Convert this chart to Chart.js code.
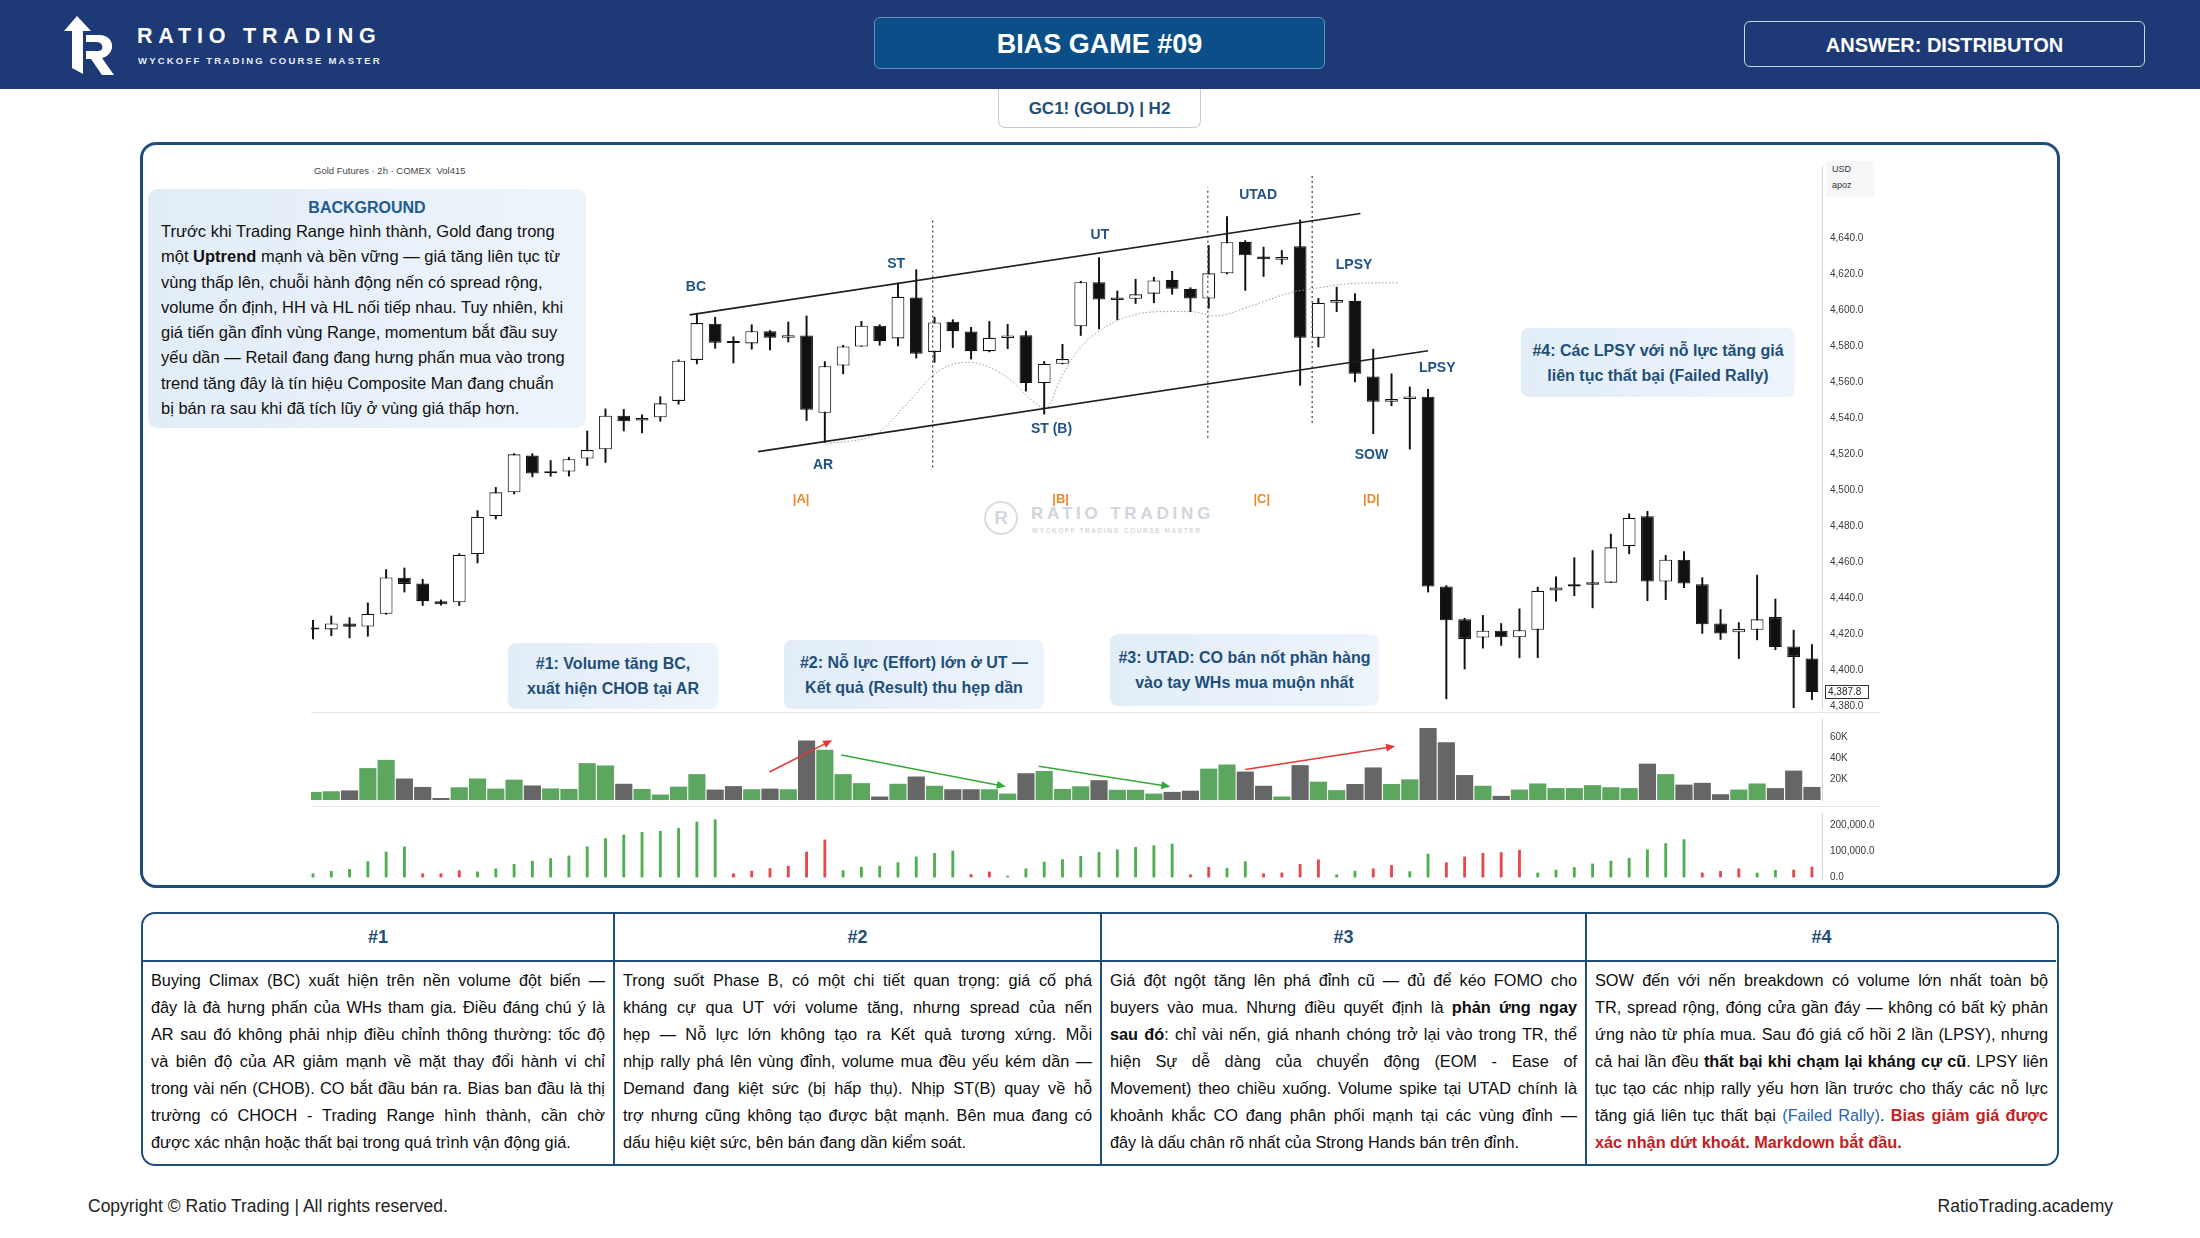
<!DOCTYPE html>
<html lang="vi">
<head>
<meta charset="utf-8">
<title>Bias Game #09 - GC1! (GOLD) H2</title>
<script src="https://cdn.jsdelivr.net/npm/chart.js@4.4.1/dist/chart.umd.min.js"></script>
<style>
  body { margin: 0; width: 2200px; height: 1238px; position: relative; overflow: hidden; background: #fff;
         font-family: "Liberation Sans", Arial, sans-serif; color: #1a1a1a; }
  .abs { position: absolute; }
  #header { left: 0; top: 0; width: 2200px; height: 89px; background: #1d3a76; }
  #logoTitle { left: 137px; top: 24px; color: #fff; font-weight: bold; font-size: 21.5px; letter-spacing: 5.8px; }
  #logoSub { left: 138px; top: 55px; color: #e8edf5; font-weight: bold; font-size: 9.5px; letter-spacing: 2.2px; }
  #gameBox { left: 874px; top: 17px; width: 451px; height: 52px; box-sizing: border-box; background: #0c4f88;
             border: 1px solid #5f8fc4; border-radius: 6px; color: #fff; font-weight: bold; font-size: 27px;
             display: flex; align-items: center; justify-content: center; padding-top: 3px; }
  #answerBox { left: 1744px; top: 21px; width: 401px; height: 46px; box-sizing: border-box; border: 1.5px solid #c8d4e8;
               border-radius: 6px; color: #fff; font-weight: bold; font-size: 20px; padding-top: 2px;
               display: flex; align-items: center; justify-content: center; }
  #tab { left: 998px; top: 89px; width: 203px; height: 39px; box-sizing: border-box; background: #fff; border: 1px solid #c5ccd6;
         border-top: none; border-radius: 0 0 7px 7px; color: #1f4e79; font-weight: bold; font-size: 17px; padding-top: 2px;
         display: flex; align-items: center; justify-content: center; }
  #panel { left: 140px; top: 142px; width: 1920px; height: 746px; box-sizing: border-box; border: 3px solid #1f4e7c; border-radius: 16px; }
  .pane { position: absolute; left: 311px; width: 1569px; }
  .sep { position: absolute; left: 311px; width: 1569px; height: 1px; background: #e4e4e4; }
  #srcTag { left: 314px; top: 165px; font-size: 9.5px; color: #444; }
  #usdBox { left: 1826px; top: 161px; width: 48px; height: 36px; background: #f6f7f8; font-size: 9px; color: #333; line-height: 16px; padding-left: 6px; box-sizing: border-box; }
  .note { position: absolute; box-sizing: border-box; border-radius: 8px; background: linear-gradient(90deg, #e2edf8, #edf4fb);
          color: #1f4e79; font-weight: bold; font-size: 16px; line-height: 25px; text-align: center;
          display: flex; align-items: center; justify-content: center; }
  #bgBox { left: 148px; top: 189px; width: 438px; height: 239px; box-sizing: border-box; border-radius: 9px;
           background: linear-gradient(90deg, #e2edf8, #eef4fb); padding: 8px 0 0 13px; }
  #bgBox .ttl { text-align: center; color: #1f5a90; font-weight: bold; font-size: 16px; line-height: 22px; padding-right: 13px; }
  #bgBox .txt { font-size: 16.5px; line-height: 25.3px; color: #111; }
  #wm { left: 984px; top: 500px; opacity: 0.85; }
  #wmCirc { left: 0; top: 1px; width: 34px; height: 34px; box-sizing: border-box; border: 2px solid #d3d7de; border-radius: 50%;
            color: #cbd0d8; font-weight: bold; font-size: 19px; display: flex; align-items: center; justify-content: center; }
  #wmT1 { left: 47px; top: 4px; font-weight: bold; font-size: 17px; letter-spacing: 3.8px; color: #c9ced6; white-space: nowrap; }
  #wmT2 { left: 48px; top: 27px; font-weight: bold; font-size: 6.5px; letter-spacing: 1.6px; color: #cdd2d9; white-space: nowrap; }
  #notes { left: 141px; top: 912px; width: 1918px; height: 254px; box-sizing: border-box; border: 2.5px solid #1f4e7c;
           border-radius: 14px; display: grid; grid-template-columns: 470px 487px 485px 471px; overflow: hidden; }
  #notes .col + .col { border-left: 2px solid #1f4e7c; }
  #notes .hd { height: 46px; border-bottom: 2px solid #1f4e7c; display: flex; align-items: center; justify-content: center;
               color: #1f4e79; font-weight: bold; font-size: 18px; }
  #notes .bd { padding: 5px 8px 0 8px; font-size: 16.3px; line-height: 27px; color: #0d0d0d; }
  #notes .bd div { text-align: justify; text-align-last: justify; }
  #notes .bd div:last-child { text-align-last: left; }
  .blue { color: #2a63aa; }
  .red { color: #c4201d; font-weight: bold; }
  #copy { left: 88px; top: 1196px; font-size: 17.5px; color: #222; }
  #site { right: 87px; top: 1196px; font-size: 17.5px; color: #222; }
</style>
</head>
<body>

<div id="header" class="abs"></div>
<svg class="abs" style="left:62px;top:16px" width="56" height="60" viewBox="0 0 56 60">
  <path d="M15 0 L29 15 L21 15 L21 58 L10 52 L10 15 L2 15 Z" fill="#fff"/>
  <path d="M24 19 H37 C47 19 51 26 50 32 C49 37 45 41 40 42 L52 59 H40 L29 43 H24 V35 H36 C40 35 41 32 40 29 C39 27 37 26 34 26 H24 Z" fill="#fff"/>
</svg>
<div id="logoTitle" class="abs">RATIO TRADING</div>
<div id="logoSub" class="abs">WYCKOFF TRADING COURSE MASTER</div>
<div id="gameBox" class="abs">BIAS GAME #09</div>
<div id="answerBox" class="abs">ANSWER: DISTRIBUTON</div>
<div id="tab" class="abs">GC1! (GOLD) | H2</div>

<div id="panel" class="abs"></div>
<div id="srcTag" class="abs">Gold Futures · 2h · COMEX&nbsp; Vol415</div>
<div id="usdBox" class="abs">USD<br>apoz</div>

<div id="wm" class="abs">
  <div id="wmCirc" class="abs">R</div>
  <div id="wmT1" class="abs">RATIO TRADING</div>
  <div id="wmT2" class="abs">WYCKOFF TRADING COURSE MASTER</div>
</div>

<div class="pane" style="top:152px;height:570px"><canvas id="priceChart"></canvas></div>
<div class="sep" style="top:712px"></div>
<div class="pane" style="top:705px;height:109px"><canvas id="volChart"></canvas></div>
<div class="sep" style="top:806px"></div>
<div class="pane" style="top:799px;height:94px"><canvas id="indChart"></canvas></div>

<div id="bgBox" class="abs">
  <div class="ttl">BACKGROUND</div>
  <div class="txt">Trước khi Trading Range hình thành, Gold đang trong<br>
một <b>Uptrend</b> mạnh và bền vững — giá tăng liên tục từ<br>
vùng thấp lên, chuỗi hành động nến có spread rộng,<br>
volume ổn định, HH và HL nối tiếp nhau. Tuy nhiên, khi<br>
giá tiến gần đỉnh vùng Range, momentum bắt đầu suy<br>
yếu dần — Retail đang đang hưng phấn mua vào trong<br>
trend tăng đây là tín hiệu Composite Man đang chuẩn<br>
bị bán ra sau khi đã tích lũy ở vùng giá thấp hơn.</div>
</div>

<div class="note" style="left:508px;top:643px;width:210px;height:66px">#1: Volume tăng BC,<br>xuất hiện CHOB tại AR</div>
<div class="note" style="left:784px;top:640px;width:260px;height:69px">#2: Nỗ lực (Effort) lớn ở UT —<br>Kết quả (Result) thu hẹp dần</div>
<div class="note" style="left:1110px;top:634px;width:269px;height:72px">#3: UTAD: CO bán nốt phần hàng<br>vào tay WHs mua muộn nhất</div>
<div class="note" style="left:1521px;top:328px;width:274px;height:69px">#4: Các LPSY với nỗ lực tăng giá<br>liên tục thất bại (Failed Rally)</div>

<div id="notes" class="abs">
  <div class="col"><div class="hd">#1</div><div class="bd">
    <div>Buying Climax (BC) xuất hiện trên nền volume đột biến —</div>
    <div>đây là đà hưng phấn của WHs tham gia. Điều đáng chú ý là</div>
    <div>AR sau đó không phải nhịp điều chỉnh thông thường: tốc độ</div>
    <div>và biên độ của AR giảm mạnh về mặt thay đổi hành vi chỉ</div>
    <div>trong vài nến (CHOB). CO bắt đầu bán ra. Bias ban đầu là thị</div>
    <div>trường có CHOCH - Trading Range hình thành, cần chờ</div>
    <div>được xác nhận hoặc thất bại trong quá trình vận động giá.</div>
  </div></div>
  <div class="col"><div class="hd">#2</div><div class="bd">
    <div>Trong suốt Phase B, có một chi tiết quan trọng: giá cố phá</div>
    <div>kháng cự qua UT với volume tăng, nhưng spread của nến</div>
    <div>hẹp — Nỗ lực lớn không tạo ra Kết quả tương xứng. Mỗi</div>
    <div>nhịp rally phá lên vùng đỉnh, volume mua đều yếu kém dần —</div>
    <div>Demand đang kiệt sức (bị hấp thụ). Nhịp ST(B) quay về hỗ</div>
    <div>trợ nhưng cũng không tạo được bật mạnh. Bên mua đang có</div>
    <div>dấu hiệu kiệt sức, bên bán đang dần kiểm soát.</div>
  </div></div>
  <div class="col"><div class="hd">#3</div><div class="bd">
    <div>Giá đột ngột tăng lên phá đỉnh cũ — đủ để kéo FOMO cho</div>
    <div>buyers vào mua. Nhưng điều quyết định là <b>phản ứng ngay</b></div>
    <div><b>sau đó</b>: chỉ vài nến, giá nhanh chóng trở lại vào trong TR, thể</div>
    <div>hiện Sự dễ dàng của chuyển động (EOM - Ease of</div>
    <div>Movement) theo chiều xuống. Volume spike tại UTAD chính là</div>
    <div>khoảnh khắc CO đang phân phối mạnh tại các vùng đỉnh —</div>
    <div>đây là dấu chân rõ nhất của Strong Hands bán trên đỉnh.</div>
  </div></div>
  <div class="col"><div class="hd">#4</div><div class="bd">
    <div>SOW đến với nến breakdown có volume lớn nhất toàn bộ</div>
    <div>TR, spread rộng, đóng cửa gần đáy — không có bất kỳ phản</div>
    <div>ứng nào từ phía mua. Sau đó giá cố hồi 2 lần (LPSY), nhưng</div>
    <div>cả hai lần đều <b>thất bại khi chạm lại kháng cự cũ</b>. LPSY liên</div>
    <div>tục tạo các nhịp rally yếu hơn lần trước cho thấy các nỗ lực</div>
    <div>tăng giá liên tục thất bại <span class="blue">(Failed Rally)</span>. <span class="red">Bias giảm giá được</span></div>
    <div><span class="red">xác nhận dứt khoát. Markdown bắt đầu.</span></div>
  </div></div>
</div>

<div id="copy" class="abs">Copyright © Ratio Trading | All rights reserved.</div>
<div id="site" class="abs">RatioTrading.academy</div>

<script>
// GC1! 2h candles (index 0 = leftmost candle)
const candleOpen = [4422.6,4422.6,4425.9,4424.2,4431.3,4451.4,4448.1,4438.3,4437.7,4464.5,
  4485.6,4498.9,4519.3,4509.5,4510.4,4517.7,4522.8,4541.5,4538.8,4540.6,
  4549.7,4572.5,4592.7,4582.3,4581.7,4588.5,4584.8,4586.1,4543.1,4569.4,
  4580.0,4591.6,4584.5,4607.2,4577.0,4593.8,4588.3,4577.4,4584.7,4586.3,
  4559.7,4570.4,4591.2,4615.8,4605.8,4606.5,4609.4,4617.1,4612.0,4606.7,
  4620.7,4638.2,4630.0,4628.3,4635.8,4584.8,4604.3,4605.4,4563.3,4549.3,
  4550.8,4552.1,4446.5,4428.2,4418.1,4421.9,4418.2,4422.4,4444.3,4446.5,
  4447.4,4448.6,4468.9,4485.6,4449.2,4461.4,4447.7,4425.9,4421.0,4422.4,
  4429.5,4413.1,4406.4];
const candleHigh = [4427.7,4430.1,4429.2,4437.4,4455.9,4456.8,4450.5,4439.0,4464.7,4488.7,
  4501.6,4520.4,4520.4,4516.6,4518.4,4533.0,4545.3,4545.0,4542.0,4552.1,
  4572.6,4598.5,4596.3,4585.4,4592.1,4588.8,4593.6,4597.0,4571.6,4580.7,
  4594.0,4592.1,4615.2,4622.7,4596.3,4594.9,4590.7,4593.9,4592.3,4588.5,
  4571.7,4581.2,4616.3,4629.4,4610.9,4617.4,4618.5,4621.8,4612.7,4636.2,
  4652.2,4638.9,4635.3,4633.4,4650.4,4606.7,4613.0,4609.4,4578.5,4564.8,
  4557.5,4556.2,4447.0,4428.8,4430.4,4425.9,4434.1,4446.1,4451.9,4462.5,
  4466.5,4475.6,4486.9,4488.3,4463.8,4465.9,4451.4,4433.7,4426.4,4452.8,
  4439.5,4422.2,4414.2];
const candleLow = [4417.3,4419.1,4417.9,4418.8,4431.0,4443.4,4435.9,4436.1,4435.9,4459.6,
  4484.1,4498.0,4507.5,4507.8,4507.9,4513.8,4515.5,4533.0,4532.0,4538.4,
  4547.9,4570.3,4579.0,4570.8,4578.5,4578.1,4582.5,4538.8,4526.6,4564.8,
  4580.0,4580.7,4580.3,4573.5,4571.2,4579.4,4573.0,4577.0,4578.8,4555.2,
  4542.4,4570.3,4586.1,4589.8,4594.8,4603.9,4604.3,4609.0,4599.4,4601.2,
  4620.3,4611.2,4618.9,4625.8,4558.4,4579.7,4599.4,4560.3,4531.5,4547.0,
  4522.9,4443.4,4384.0,4400.6,4412.2,4413.7,4406.8,4406.9,4438.3,4441.4,
  4434.6,4448.6,4464.7,4438.6,4439.2,4445.9,4420.4,4417.0,4406.4,4416.8,
  4411.3,4378.7,4383.6];
const candleClose = [4423.0,4425.9,4424.1,4431.3,4451.5,4447.9,4438.3,4436.6,4464.1,4485.2,
  4498.9,4520.0,4509.3,4509.9,4517.3,4522.4,4541.5,4538.4,4540.2,4548.4,
  4572.1,4593.0,4582.1,4581.9,4588.5,4584.8,4586.3,4544.8,4569.0,4580.0,
  4591.6,4583.0,4607.6,4575.9,4593.4,4588.5,4577.4,4584.8,4586.1,4559.7,
  4570.3,4573.0,4615.8,4606.1,4607.2,4609.0,4616.7,4612.1,4606.7,4620.7,
  4638.0,4630.7,4628.5,4629.8,4584.8,4604.3,4605.8,4564.8,4549.3,4550.8,
  4552.2,4446.5,4427.7,4417.3,4421.9,4418.2,4422.2,4444.1,4445.9,4447.7,
  4448.8,4468.3,4484.7,4449.2,4461.4,4448.1,4425.5,4420.4,4422.8,4428.2,
  4412.8,4407.3,4387.8];

// volume histogram (contracts)
const volume = [7700,8300,9100,30300,38100,20400,12400,1900,12100,20400,
  10800,19300,13800,11000,10500,35000,32800,15400,10500,5200,
  12700,24600,9900,13200,10200,10800,10200,56600,47700,24600,
  16000,3300,15400,22300,13500,10200,10200,10200,6100,25400,
  27600,10500,13000,18800,9700,9700,6100,7700,8800,29800,
  33700,27000,13500,3300,33100,17400,9400,15200,30900,15200,
  19600,68400,54900,23700,13500,3900,9900,15700,11300,11300,
  14100,12100,11300,34500,24600,14600,16300,5500,9900,15700,
  11300,27900,12400];

// lower wave-volume pane and its side (1 = up wave, -1 = down wave)
const waveVolume = [13000,22000,30000,60000,97000,117000,13000,13000,25000,20000,
  32000,49000,62000,72000,82000,117000,149000,163000,173000,177000,
  189000,213000,222000,13000,23000,33000,42000,97000,144000,25000,
  38000,42000,56000,78000,92000,101000,10000,20000,4000,32000,
  58000,68000,80000,96000,106000,115000,121000,128000,9000,38000,
  34000,60000,13000,16000,49000,67000,9000,23000,32000,45000,
  21000,89000,56000,78000,92000,95000,104000,16000,27000,37000,
  51000,62000,73000,106000,130000,145000,16000,22000,32000,16000,
  26000,27000,39000];
const waveSide = [1,1,1,1,1,1,-1,-1,-1,1,
  1,1,1,1,1,1,1,1,1,1,
  1,1,1,-1,-1,-1,-1,-1,-1,1,
  1,1,1,1,1,1,-1,-1,1,1,
  1,1,1,1,1,1,1,1,-1,-1,
  1,1,-1,-1,-1,-1,1,1,-1,-1,
  1,1,-1,-1,-1,-1,-1,1,1,1,
  1,1,1,1,1,1,-1,-1,-1,1,
  1,-1,-1];

const priceTicks = [4380,4400,4420,4440,4460,4480,4500,4520,4540,4560,4580,4600,4620,4640];
const volumeTicks = [20000,40000,60000];
const waveTicks = [0,100000,200000];
const lastPrice = 4387.8;

// annotations in chart coordinates (candle index, price / volume)
const waveLabels = ['BC','ST','UT','UTAD','LPSY','AR','ST (B)','SOW','LPSY'];
const waveLabelAt = [[20.95,4613],[31.9,4626],[43.05,4642],[51.7,4664],[56.95,4625],[27.9,4514],[40.4,4534],[57.9,4519.5],[61.5,4568]];
const phaseLabels = ['|A|','|B|','|C|','|D|'];
const phaseAt = [[26.7,4495],[40.9,4495],[51.9,4495],[57.9,4495]];
const channelUpper = [[20.6,4597.6],[57.3,4654]];
const channelLower = [[24.35,4521.5],[61.0,4577.6]];
const phaseLines = [[33.9,4512.7,4651],[48.95,4529.3,4668.6],[54.66,4537.5,4675.9]];
const curvePts = [[28.1,4525.7],[30.9,4532.0],[32.6,4549.3],[33.9,4563.9],[34.8,4569.4],[35.8,4571.2],[37.0,4568.4],
  [38.3,4560.3],[39.2,4551.1],[40.1,4545.7],[40.9,4562.1],[41.9,4578.5],[43.4,4591.2],[44.9,4597.6],[46.6,4599.4],
  [48.0,4599.4],[49.4,4597.0],[51.2,4602.1],[53.6,4610.3],[54.7,4612.1],[57.1,4615.2],[59.4,4615.4]];
const volArrows = [[24.97,26500,28.4,56800,'#e53935'],[28.9,42800,37.9,12700,'#35a83a'],
  [39.7,32000,46.9,12700,'#35a83a'],[51.0,29000,59.2,51000,'#e53935']];

const FONT = '"Liberation Sans", Arial, sans-serif';
const idx = candleOpen.map((_, i) => i);
const isUp = idx.map(i => candleClose[i] >= candleOpen[i]);
const toXY = pts => pts.map(p => ({ x: p[0], y: p[1] }));

const xAxis = { type: 'linear', min: -0.11, max: 82.55, display: false, offset: false };

function rightAxis(min, max, ticks, fmt) {
  return {
    position: 'right', min: min, max: max,
    afterFit(s) { s.width = 58; },
    afterBuildTicks(s) { s.ticks = ticks.map(v => ({ value: v })); },
    grid: { display: false, drawTicks: false },
    border: { display: true, color: '#d6d6d6', width: 1 },
    ticks: { padding: 8, color: '#3a3a3a', font: { family: FONT, size: 10 }, callback: fmt }
  };
}

const baseOpts = {
  responsive: true, maintainAspectRatio: false, animation: false, events: [],
  layout: { padding: { top: 8, bottom: 10, left: 0, right: 0 } },
  plugins: { legend: { display: false }, tooltip: { enabled: false } }
};

const priceMarks = {
  id: 'priceMarks',
  afterDatasetsDraw(chart) {
    const { ctx, scales: { x, y }, chartArea } = chart;
    ctx.save();
    ctx.textAlign = 'center';
    ctx.textBaseline = 'middle';
    ctx.font = 'bold 14px ' + FONT;
    ctx.fillStyle = '#1f5286';
    waveLabels.forEach((t, k) => ctx.fillText(t, x.getPixelForValue(waveLabelAt[k][0]), y.getPixelForValue(waveLabelAt[k][1])));
    ctx.font = 'bold 13px ' + FONT;
    ctx.fillStyle = '#e8892b';
    phaseLabels.forEach((t, k) => ctx.fillText(t, x.getPixelForValue(phaseAt[k][0]), y.getPixelForValue(phaseAt[k][1])));
    // last price tag on the axis
    const py = y.getPixelForValue(lastPrice);
    ctx.fillStyle = '#fff';
    ctx.fillRect(chartArea.right + 3, py - 6.5, 43, 13);
    ctx.strokeStyle = '#333';
    ctx.lineWidth = 1;
    ctx.strokeRect(chartArea.right + 3.5, py - 6.5, 43, 13);
    ctx.fillStyle = '#222';
    ctx.font = '10px ' + FONT;
    ctx.textAlign = 'left';
    ctx.fillText(lastPrice.toLocaleString('en-US', { minimumFractionDigits: 1 }), chartArea.right + 6, py + 0.5);
    ctx.restore();
  }
};

new Chart(document.getElementById('priceChart'), {
  type: 'bar',
  data: {
    datasets: [
      { type: 'line', data: toXY(channelUpper), borderColor: '#1e1e1e', borderWidth: 1.6, pointRadius: 0, order: 0 },
      { type: 'line', data: toXY(channelLower), borderColor: '#1e1e1e', borderWidth: 1.6, pointRadius: 0, order: 0 },
      ...phaseLines.map(v => ({ type: 'line', data: [{ x: v[0], y: v[1] }, { x: v[0], y: v[2] }],
        borderColor: '#4a4a4a', borderWidth: 1.3, borderDash: [2, 3], pointRadius: 0, order: 0 })),
      { type: 'line', data: toXY(curvePts), borderColor: '#9a9a9a', borderWidth: 1, borderDash: [1.5, 2],
        cubicInterpolationMode: 'monotone', pointRadius: 0, order: 1 },
      { type: 'bar', data: idx.map(i => ({ x: i, y: [candleOpen[i], candleClose[i]] })),
        backgroundColor: idx.map(i => isUp[i] ? '#ffffff' : '#111111'), borderColor: '#111111', borderWidth: 1.1,
        borderSkipped: false, minBarLength: 2, barPercentage: 0.7, categoryPercentage: 1, grouped: false, order: 2 },
      { type: 'bar', data: idx.map(i => ({ x: i, y: [candleLow[i], candleHigh[i]] })),
        backgroundColor: '#111111', barThickness: 1.3, grouped: false, order: 3 }
    ]
  },
  options: Object.assign({}, baseOpts, {
    scales: {
      x: xAxis,
      y: rightAxis(4378.9, 4680.4, priceTicks, v => v.toLocaleString('en-US', { minimumFractionDigits: 1 }))
    }
  }),
  plugins: [priceMarks]
});

const volArrowsPlugin = {
  id: 'volArrows',
  afterDatasetsDraw(chart) {
    const { ctx, scales: { x, y } } = chart;
    ctx.save();
    volArrows.forEach(a => {
      const x1 = x.getPixelForValue(a[0]), y1 = y.getPixelForValue(a[1]);
      const x2 = x.getPixelForValue(a[2]), y2 = y.getPixelForValue(a[3]);
      const ang = Math.atan2(y2 - y1, x2 - x1);
      ctx.strokeStyle = a[4];
      ctx.fillStyle = a[4];
      ctx.lineWidth = 1.6;
      ctx.beginPath();
      ctx.moveTo(x1, y1);
      ctx.lineTo(x2 - 6 * Math.cos(ang), y2 - 6 * Math.sin(ang));
      ctx.stroke();
      ctx.beginPath();
      ctx.moveTo(x2, y2);
      ctx.lineTo(x2 - 9 * Math.cos(ang) + 4 * Math.sin(ang), y2 - 9 * Math.sin(ang) - 4 * Math.cos(ang));
      ctx.lineTo(x2 - 9 * Math.cos(ang) - 4 * Math.sin(ang), y2 - 9 * Math.sin(ang) + 4 * Math.cos(ang));
      ctx.closePath();
      ctx.fill();
    });
    ctx.restore();
  }
};

new Chart(document.getElementById('volChart'), {
  type: 'bar',
  data: {
    datasets: [{
      data: idx.map(i => ({ x: i, y: volume[i] })),
      backgroundColor: idx.map(i => isUp[i] ? '#5da660' : '#666666'),
      barPercentage: 0.94, categoryPercentage: 1, grouped: false
    }]
  },
  options: Object.assign({}, baseOpts, {
    layout: { padding: { top: 8, bottom: 8, left: 0, right: 0 } },
    scales: { x: xAxis, y: rightAxis(0, 76900, volumeTicks, v => (v / 1000) + 'K') }
  }),
  plugins: [volArrowsPlugin]
});

new Chart(document.getElementById('indChart'), {
  type: 'bar',
  data: {
    datasets: [{
      data: idx.map(i => ({ x: i, y: waveVolume[i] })),
      backgroundColor: idx.map(i => waveSide[i] > 0 ? '#4caf50' : '#e5484d'),
      barThickness: 2.2, grouped: false
    }]
  },
  options: Object.assign({}, baseOpts, {
    layout: { padding: { top: 8, bottom: 8, left: 0, right: 0 } },
    scales: { x: xAxis, y: rightAxis(-7500, 248000, waveTicks, v => v.toLocaleString('en-US', { minimumFractionDigits: 1 })) }
  })
});
</script>
</body>
</html>
